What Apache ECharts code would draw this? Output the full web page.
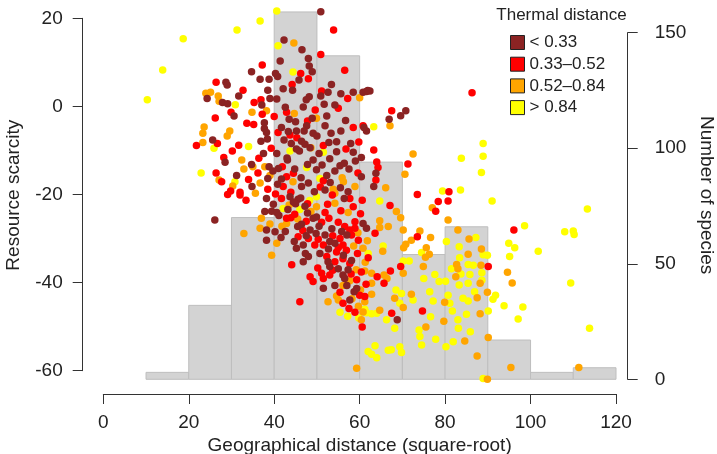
<!DOCTYPE html>
<html><head><meta charset="utf-8">
<script src="https://cdn.jsdelivr.net/npm/echarts@6/dist/echarts.min.js"></script>
<style>html,body{margin:0;padding:0;background:#fff}#c{width:717px;height:454px}</style>
</head><body><div id="c"></div>
<script>
// ---- data ----
const histBreaks = [10,20,30,40,50,60,70,80,90,100,110,120];
const histCounts = [3,32,70,159,140,94,54,66,17,3,5];
const classNames = ['< 0.33','0.33–0.52','0.52–0.84','> 0.84'];
const classColors = ['#8B2323','#FF0000','#FFA500','#FFFF00'];
const legendTitle = 'Thermal distance';
const xTitle = 'Geographical distance (square-root)';
const yTitle = 'Resource scarcity';
const y2Title = 'Number of species';

const ptsDarkRed = [
[34.7,7.8],[28.7,5.4],[29,4.8],[24.3,1.7],[31.7,2.3],[27.9,0.8],[29.1,0.5],[30.6,-2.3],[25.6,-7.7],[28.5,-12.8],[34.7,-13.3],[31.2,-15.8],[34.8,-18.3],
[50.9,21.4],[42.3,15],[48,10.8],[48.2,9.1],[48.9,7.8],[40.3,7.4],[40.8,6.7],[36.7,6.1],[38.8,6.1],[45.8,5.9],[53.4,4.9],[38.5,3.6],[42.1,3.9],[44.3,3.6],[52.6,3.1],[58.5,3.1],[60.8,3.1],[61.6,3.3],[48.2,2.1],[50.9,2.3],[39,1.7],[40.6,1.6],[37.1,0.2],[51.7,0.4],[54.2,0.2],[46.8,-0.2],[52.3,-2.3],[48.9,-2.8],[45,-3.6],[47.6,-4.5],[41.7,-4.9],[51.9,-4.5],[37.7,-5.1],[38.2,-6],[45.2,-5.7],[47,-5.7],[49.1,-6.2],[55.6,-5.7],[61.6,-5.7],[36.9,-8],[42.3,-7.7],[46.4,-8],[47.2,-8.7],[45.2,-9.8],[48.4,-9.5],[52.8,-8.3],[54.6,-8.1],[57.9,-8.5],[54.6,-10.4],[58.5,-10.5],[45.9,-10.2],[40.6,-10.8],[60.4,-11.7],[53,-12],[49.1,-12.3],[43.1,-12.3],[55.4,-13.6],[56.4,-13],[38.8,-13.8],[41,-14.2],[44.8,-14.3],[49.9,-14.5],[39.7,-14.8],[52.3,-15.8],[46.3,-16.3],[60.4,-16.1],[38.5,-16.5],[51.9,-19.1],[40.8,-17.8],[46.4,-18.3],[49.4,-19.5],[57.3,-19.5],[37.7,-3.8],[38.4,-7.5],
[43.5,-3],[44,-8.5],[50,-6.8],[53.3,-6.2],[56.7,-3.3],[43,-11.8],[47.8,-13.3],[51.2,-13.4],[54.2,-14.8],[57.5,-14.3],[59,-12.5],[41.7,-16.6],[48,-17.5],[53.1,-17.4],[55.5,-18.6],[37.5,-10.8],[42.6,-0.3],[47.5,1.4],[55.6,2.8],[41.4,10.2],[46.5,12.8],[43.3,-5.8],[50.5,-10.8],
[62.4,3.4],[61.9,3.5],[70.8,-1.1],[69.6,-2.2],[66.9,-3],[61,-4.9],[63.8,-15.3],[63.3,-18.3],
[38.2,-21],[43.7,-20.6],[45.6,-21.2],[47.2,-22.8],[45,-22.2],[56.4,-21],[37.8,-24],[39.4,-23.9],[40.6,-24.2],[41.1,-24.9],[45.5,-27.4],[46.4,-26.9],[48.4,-28.2],[49.1,-25.5],[49.9,-25.2],[60.8,-26.7],[61.6,-27.8],[38.2,-28.2],[40.2,-28.6],[38.2,-30.5],[41.6,-29.9],[44.7,-30.8],[46.8,-31.6],[45.2,-32.3],[51.9,-29.3],[53,-30.8],[54.2,-31.2],[57,-29.3],[46.8,-35.4],[48,-34.2],[50.7,-33.5],[53,-36.5],[52.6,-35.4],[56.2,-33.9],[58.1,-35.1],[51.5,-41.4],[54.2,-40.8],[56.1,-38.4],[56.5,-39.2],[57,-40.8],[58.7,-42.2],[57.7,-44.1],
[44.5,-21.8],[46.2,-20.9],[39.8,-22.3],[47.8,-24.3],[43.2,-23.5],[50.5,-27.3],[53.5,-27.9],[47.5,-29.5],[42.6,-28.5],[49.8,-29],[55.8,-28.5],[52.7,-32.5],[57.3,-37.2],[59.3,-41.5],[55,-37],[47.3,-33.5],
[26.1,-25.9],[68.8,-48.6]
];
const ptsRed = [
[26.4,5.4],[32.7,3.6],[29.9,-1.4],[26.2,-2.7],[33.6,-3.9],[26.7,-8.5],[21.8,-9],[30.2,-10.2],[31.7,-8.9],[28.2,-11.7],[26.4,-15.2],[27.7,-17.2],[34,-16.7],[29.8,-19.3],[32,-19.6],[29.1,-20.1],[33.4,-21.4],[32,-20.2],
[53.9,17.3],[50.9,11.7],[37.2,9.3],[46.2,7.4],[56.5,8.1],[44.2,4.9],[51.1,3.4],[57.2,1.7],[36.9,1.4],[55,-0.5],[42.9,-1.4],[40,-2.4],[37.2,-1.9],[47.8,-3.4],[58.5,-4.9],[60.8,-4.5],[43.7,-6.6],[51.5,-9],[36.4,-11.9],[41.9,-13.8],[42.9,-16.1],[51.5,-17],[42.1,-18.3],[38.5,-18.9],[43.9,-19.6],[35.2,-4.2],[35.3,0.8],
[45.3,-7.2],[49.6,-0.9],[56.8,-9.8],[59.8,-8.2],[40.9,-6],[39.3,-9.6],[44.5,-15.3],[50.8,-18.4],[53.6,-20.2],[59.6,-15.2],[48,6.2],[36.2,-15.2],[40.3,-20],
[86.3,3],[67.5,-1.1],[63.3,-10],[71.3,-13.2],[64,-12.7],[64.3,-14],[63.8,-16.8],[73.5,-20.1],[80.9,-19.5],
[78.4,-21.7],[80.7,-21.6],[67.1,-22.6],[77.8,-23.9],[63.6,-28.9],[73.5,-29.7],[69.6,-36.5],[67.2,-37.5],[64.1,-38.8],[65.7,-40.3],[67.5,-47.1],[74.7,-46.6],
[96.1,-28.2],[90.1,-36.5],
[41.7,-21],[57.7,-21],[58.5,-22.9],[60.6,-21.4],[42.9,-25.5],[43.9,-25.4],[51.9,-24.2],[51.1,-26.4],[55,-26.4],[56.5,-27.4],[57.7,-28.2],[58.9,-26.3],[58.9,-27.8],[45.6,-29.7],[48,-30.1],[49.5,-31.6],[51.5,-31.6],[55.4,-30.1],[55,-32.2],[56.1,-31.6],[58.1,-29.3],[59.7,-30.5],[44.1,-36.1],[48.4,-38.8],[49.1,-39.9],[51.1,-38],[53,-38.4],[51.5,-39.2],[52.3,-34.2],[54.2,-35.4],[56.1,-34.7],[54.6,-33.2],[57.7,-35.8],[60.4,-37.7],[59.3,-39.5],[60,-43],[61.2,-43.3],[56.1,-44.8],[58.9,-46.9],[46,-44.5],[60.6,-50.2],
[44.8,-24.6],[47.5,-26.2],[52.8,-25.5],[46.7,-28.3],[50.3,-30.3],[53.7,-29.5],[56.9,-32.8],[59.5,-33.5],[50.2,-36.8],[53.7,-37.3],[58,-38.2],[55.4,-42.3],[57.5,-46],[61.5,-40.5],[62,-34.5],[60.2,-24.5],[55.6,-23.8],[52.5,-22.3],[47.8,-22.2]
];
const ptsOrange = [
[24,2.9],[25.1,3.1],[26.9,2.3],[27.1,1.1],[34.8,-1.4],[23.6,-4.8],[23.3,-6.2],[29.6,-5.7],[29,-6.8],[23.3,-8.3],[32.4,-12.3],[32.9,-14.3],[27.1,-16.8],[30.3,-18.2],
[44.6,14.3],[60,1.9],[44.7,-1.7],[49.9,-2.8],[38.2,-1.1],[48.6,-9.5],[37.8,-13.8],[35,-13.8],[55.9,-16.3],[39,-15.8],[44.4,-17.2],[56.2,-17.2],[58.9,-18.3],[53.8,-18.9],[36.7,-17.5],[35.6,-19.8],[54.2,-19.8],
[67.1,-4.5],[72.5,-10.9],[70.6,-15.5],[66.1,-18.6],
[77,-23.1],[68.6,-24],[69.6,-25.4],[80.7,-25.9],[64.7,-26.1],[66.7,-27.4],[64.7,-27.6],[70.2,-28.2],[83,-28.2],[74.1,-28.4],[76.6,-29.9],[72.1,-30.5],[85.6,-30.2],[70.8,-31.4],[70.3,-32.2],[75.6,-32.2],[88.5,-32.5],[65.4,-33],[76.3,-33.7],[85.4,-33.7],[75.4,-34.4],[82.7,-36],[74.9,-36.5],[88.4,-36.2],[83,-37],[62.8,-38],[65.7,-38.4],[70.2,-38],[82.5,-38.8],[66.4,-39.2],[62.8,-40.3],[88.2,-40.3],[72.1,-42.8],[62.8,-42.8],[68.2,-43.7],[79.9,-44.6],[87.5,-43.6],[70.2,-45.8],[64.7,-46.4],[88.2,-47.2],[79.7,-48.9],[75.5,-50.2],[84.6,-53.4],[87.5,-56.8],
[94.6,-37.8],[95.7,-40.2],[89.9,-42.3],[90.1,-52.6],[95.4,-59.4],[111.3,-59.4],[89.9,-62.1],
[49.9,-22.9],[54.2,-22.1],[37,-25.5],[42.9,-26.7],[36.7,-27.8],[40.6,-31.2],[60.8,-32.3],[39.4,-33.9],[59.2,-37.2],[61.2,-37.5],[56.1,-40.8],[57.7,-39.7],[55,-44.1],[52.6,-44.5],[61.2,-44.5],[60.8,-46.8],[60.4,-48.6],[59.3,-59.6],
[43.5,-22.5],[41.8,-27.3],[45.5,-25.7],[48.6,-24],[39,-26.8],[57.3,-24.2],[59.6,-28.8],[61.8,-30.6],[58.6,-31.8],[54.6,-43.2],[58.2,-43.8],[60.2,-41.8],[61.3,-35.5],[59.7,-45.5],
[32.9,-29]
];
const ptsYellow = [
[31.3,17.3],[18.7,15.3],[13.9,8.2],[10.3,1.4],[30.9,0.3],[25.9,-9.6],[34,-9.2],[22.9,-15.2],[30.8,-17.2],
[40.6,21.6],[36.7,19.3],[40.9,13.7],[44.4,7.7],[51.5,-10.5],[43.7,-10.2],[47.6,-14],[50.7,-16.5],
[63.3,-4.7],[83.8,-11.9],[88.9,-8.5],[88.9,-11.4],[88.5,-15.1],[79.4,-19.3],[83.6,-19.1],
[91,-21.6],[113.3,-23.4],[98.6,-27.2],[108,-28.6],[110,-28.4],[110.2,-29.2],[94.9,-31.2],[96.3,-32.2],[101.8,-33],[95.1,-34.2],[89.9,-33.9],[109.4,-40.2],[88.6,-37.9],[88.6,-39.6],[91.8,-43],[91.2,-43.9],[93.8,-45.4],[98.2,-45.7],[90.1,-46.6],[97.1,-48.4],[113.8,-50.5],
[64.7,-21.6],[87.2,-29.9],[80.3,-30.8],[65.5,-31.8],[83.3,-32],[74.5,-33.3],[83.4,-34.5],[88.9,-33.8],[70.2,-35.2],[71.6,-35.2],[85.4,-36],[86.6,-36.2],[81.5,-37],[77.6,-38.3],[83.7,-38.2],[85.8,-38.3],[75,-39.2],[78.6,-39.9],[80.1,-39.8],[83.3,-40.7],[85.4,-40.3],[68.5,-41.8],[69.8,-42.6],[76.4,-42.2],[80.7,-43],[86.9,-42.2],[72.5,-44.1],[77.2,-44.3],[84.2,-43.7],[85.4,-44.3],[69.4,-44.8],[81.1,-44.8],[64,-47.1],[62.8,-47.2],[66.3,-48.6],[76.6,-47.9],[81.7,-46.6],[85,-47.3],[83,-48.6],[68.2,-50.5],[83.1,-50.5],[85.9,-51.3],[73.9,-50.9],[74.1,-52.4],[77.8,-53],[81.9,-53.6],[63.6,-54.5],[74.5,-54.3],[69.4,-54.7],[80.2,-54.7],[66.7,-55.5],[67.4,-55.4],[69.8,-56],[62.8,-56.4],[64,-57.2],[88.9,-61.9],
[42.1,-23.3],[49.9,-20.6],[55.4,-46.9],[61.2,-46.2],[61.6,-47],[62,-55.8],[62,-33.5],
[46,-23.5],[48.3,-21.5],[57.2,-47.8],[59.8,-48.2]
];
const pointSets = [ptsDarkRed, ptsRed, ptsOrange, ptsYellow];

// ---- chart ----
const FONT = 'Liberation Sans, Arial, Helvetica, sans-serif';
const TXT = '#222';
const AX = '#333';
const chart = echarts.init(document.getElementById('c'), null, {renderer:'canvas'});

const hiddenAxis = (extra) => Object.assign({
  type:'value', axisLine:{show:false}, axisTick:{show:false}, axisLabel:{show:false}, splitLine:{show:false}
}, extra);

const visAxis = (extra) => Object.assign({
  type:'value',
  axisLine:{show:true, lineStyle:{color:AX, width:1}},
  axisTick:{show:true, inside:false, length:10, lineStyle:{color:AX, width:1}},
  axisLabel:{show:true, fontSize:19, color:TXT, fontFamily:FONT},
  splitLine:{show:false}
}, extra);

const histData = histCounts.map((c,i) => [histBreaks[i], histBreaks[i+1], c]);

const scatterSeries = [3,2,1,0].map(k => ({
  type:'scatter', name: classNames[k], xAxisIndex:0, yAxisIndex:0,
  data: pointSets[k], symbol:'circle', symbolSize:7.5, clip:false, z:3,
  itemStyle:{color: classColors[k], opacity:1}
}));

const G = {outerBoundsMode:'none', containLabel:false};
const option = {
  animation:false,
  textStyle:{fontFamily:FONT},
  grid:[
    Object.assign({left:103.3, top:11, width:512.7, height:368.3}, G),
    Object.assign({left:82.7, top:18.3, width:10, height:352.4}, G),
    Object.assign({left:627.7, top:32.7, width:10, height:346.6}, G),
    Object.assign({left:103.3, top:384, width:512.7, height:10}, G)
  ],
  xAxis:[
    hiddenAxis({gridIndex:0, min:0, max:120, name:xTitle, nameLocation:'middle', nameGap:57,
      nameTextStyle:{fontSize:19, color:TXT, fontFamily:FONT}}),
    hiddenAxis({gridIndex:1, show:false, min:0, max:1}),
    hiddenAxis({gridIndex:2, show:false, min:0, max:1}),
    visAxis({gridIndex:3, position:'bottom', min:0, max:120, interval:20,
      axisLabel:{show:true, fontSize:19, color:TXT, fontFamily:FONT, margin:19}})
  ],
  yAxis:[
    hiddenAxis({gridIndex:0, position:'left', min:-62.11, max:21.59, name:yTitle, nameLocation:'middle', nameGap:80,
      nameTextStyle:{fontSize:19, color:TXT, fontFamily:FONT}}),
    hiddenAxis({gridIndex:0, position:'right', min:0, max:159.4, name:y2Title, nameLocation:'middle', nameGap:81, nameRotate:-90,
      nameTextStyle:{fontSize:19, color:TXT, fontFamily:FONT}}),
    visAxis({gridIndex:1, position:'left', min:-60, max:20, interval:20,
      axisLabel:{show:true, fontSize:19, color:TXT, fontFamily:FONT, margin:20}}),
    visAxis({gridIndex:2, position:'right', min:0, max:150, interval:50,
      axisLabel:{show:true, fontSize:19, color:TXT, fontFamily:FONT, margin:17}}),
    hiddenAxis({gridIndex:3, show:false, min:0, max:1})
  ],
  legend:{
    data: classNames.map(n => ({name:n})),
    orient:'vertical', left:505, top:29, padding:5,
    itemWidth:14, itemHeight:14, itemGap:4.7, icon:'rect', selectedMode:false,
    itemStyle:{borderColor:'#222', borderWidth:1},
    textStyle:{fontSize:17, color:TXT, fontFamily:FONT}
  },
  graphic:[{
    type:'text', x:561.5, y:15,
    style:{text:legendTitle, fill:TXT, font:'17px ' + FONT, textAlign:'center', textVerticalAlign:'middle'}
  }],
  series:[
    {
      type:'custom', name:'hist', xAxisIndex:0, yAxisIndex:1, z:1,
      data: histData,
      encode:{x:[0,1], y:2},
      renderItem:(params, api) => {
        const p0 = api.coord([api.value(0), api.value(2)]);
        const p1 = api.coord([api.value(1), 0]);
        return {type:'rect', shape:{x:p0[0], y:p0[1], width:p1[0]-p0[0], height:p1[1]-p0[1]},
          style:{fill:'#D3D3D3', stroke:'#BEBEBE', lineWidth:1}};
      }
    }
  ].concat(scatterSeries)
};
chart.setOption(option);
</script>
</body></html>
